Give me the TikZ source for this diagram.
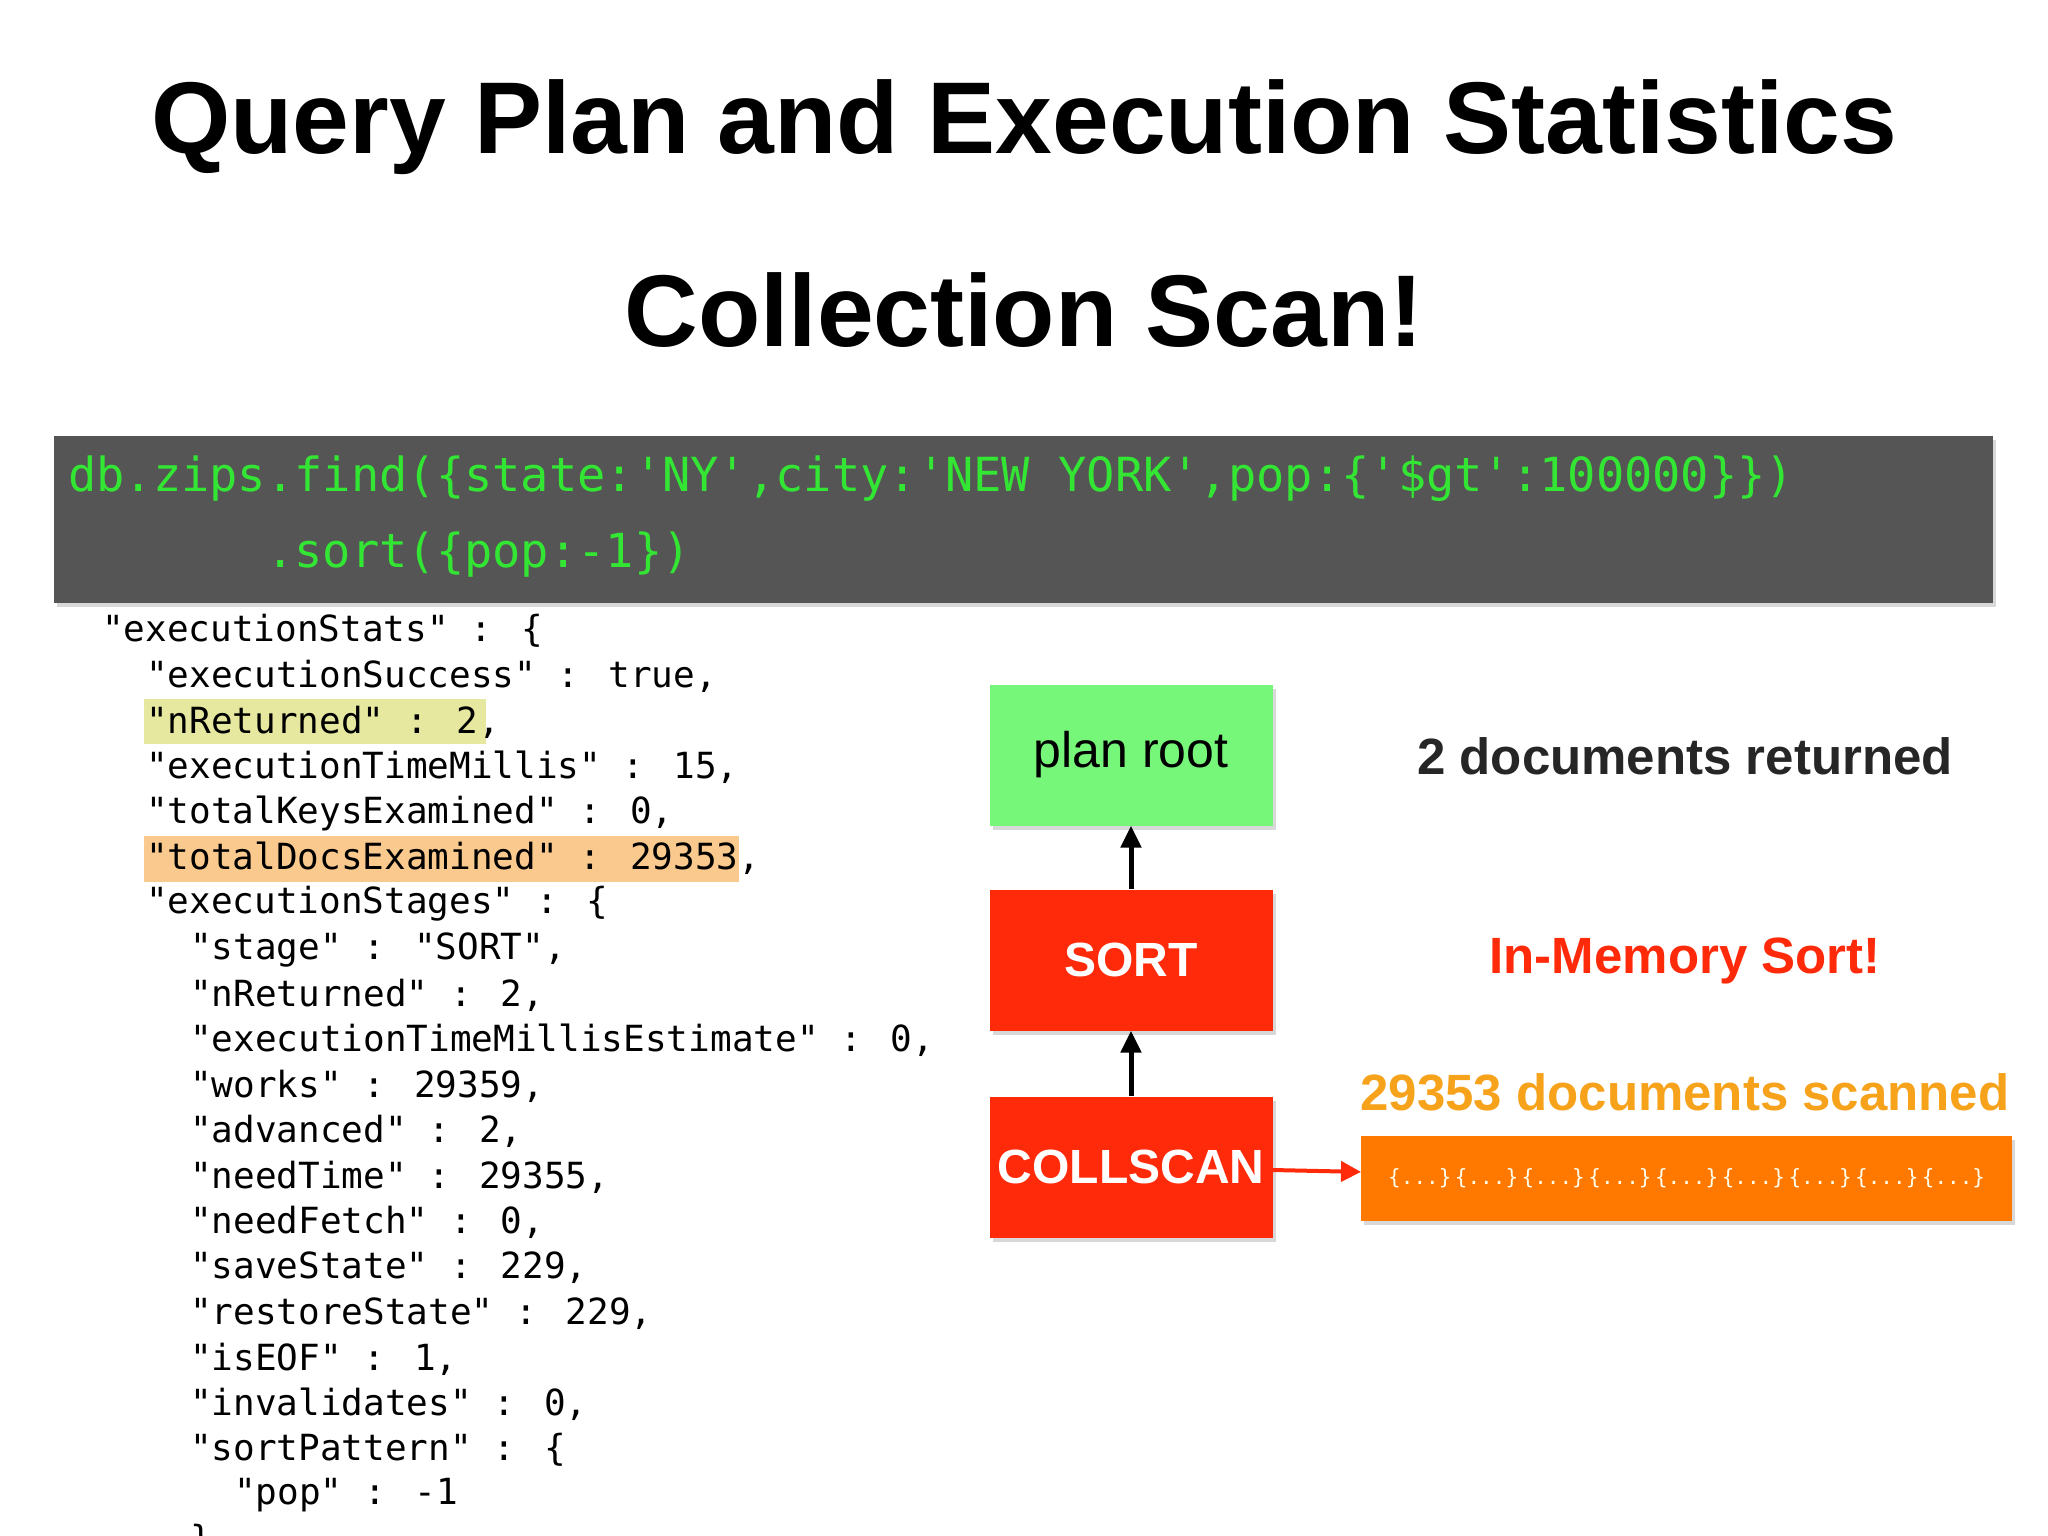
\documentclass[tikz,border=0pt]{standalone}
\usepackage{fontspec}
\setmainfont{Liberation Sans}
\newfontfamily\codefont{DejaVu Sans Mono}
\usetikzlibrary{shadows,arrows.meta}
\definecolor{codegreen}{HTML}{33E633}
\definecolor{bargray}{HTML}{555555}
\definecolor{rootgreen}{HTML}{77F77A}
\definecolor{boxred}{HTML}{FF2A0A}
\definecolor{scanorange}{HTML}{F7A21B}
\definecolor{barorange}{HTML}{FF7800}
\definecolor{hlyellow}{HTML}{E6E8A0}
\definecolor{hlorange}{HTML}{F9C98E}
\tikzset{
 stage/.style={minimum width=283pt,minimum height=141pt,inner sep=0pt,drop shadow={opacity=0.3,shadow xshift=3pt,shadow yshift=-4pt}},
 json/.style={anchor=west,inner sep=0pt,font=\codefont\fontsize{36}{36}\selectfont},
 link/.style={line width=5pt,-{Triangle[length=22pt,width=20pt]}},
 label/.style={font=\bfseries\fontsize{51}{51}\selectfont},
}
\newcommand{\dc}{\{...\}}
\begin{document}
\begin{tikzpicture}[x=1pt,y=-1pt]
\useasboundingbox[fill=white] (0,0) rectangle (2048,1536);
\node[font=\bfseries\fontsize{102}{102}\selectfont] (t1) at (1024,127) {Query Plan and Execution Statistics};
\node[font=\bfseries\fontsize{102}{102}\selectfont] (t2) at (1024,310) {Collection Scan!};
\node[fill=bargray,minimum width=1939pt,minimum height=167pt,inner sep=0pt,anchor=north west,drop shadow={opacity=0.3,shadow xshift=3pt,shadow yshift=-4pt}] (bar) at (54,436) {};
\node[anchor=west,inner sep=0pt,text=codegreen,font=\codefont\fontsize{47}{47}\selectfont] (c1) at (68,479) {db.zips.find(\{state:'NY',city:'NEW YORK',pop:\{'\$gt':100000\}\})};
\node[anchor=west,inner sep=0pt,text=codegreen,font=\codefont\fontsize{47}{47}\selectfont] (c2) at (68,555) {\phantom{db.zips}.sort(\{pop:-1\})};
\fill[hlyellow] (144,699) rectangle (486,744);
\fill[hlorange] (144,836) rectangle (739,882);
\foreach \i/\x/\t in {
0/102/{"executionStats" : \{},
1/146/{"executionSuccess" : true,},
2/146/{"nReturned" : 2,},
3/146/{"executionTimeMillis" : 15,},
4/146/{"totalKeysExamined" : 0,},
5/146/{"totalDocsExamined" : 29353,},
6/146/{"executionStages" : \{},
7/190/{"stage" : "SORT",},
8/190/{"nReturned" : 2,},
9/190/{"executionTimeMillisEstimate" : 0,},
10/190/{"works" : 29359,},
11/190/{"advanced" : 2,},
12/190/{"needTime" : 29355,},
13/190/{"needFetch" : 0,},
14/190/{"saveState" : 229,},
15/190/{"restoreState" : 229,},
16/190/{"isEOF" : 1,},
17/190/{"invalidates" : 0,},
18/190/{"sortPattern" : \{},
19/234/{"pop" : -1},
20/190/{\}}}
  \node[json] (j\i) at (\x,631+45.5*\i) {\t};
\node[stage,fill=rootgreen,font=\fontsize{50}{50}\selectfont] (root) at (1131,755) {plan root};
\node[stage,fill=boxred,text=white,font=\bfseries\fontsize{48}{48}\selectfont] (sort) at (1131,960) {SORT};
\node[stage,fill=boxred,text=white,font=\bfseries\fontsize{48}{48}\selectfont] (coll) at (1131,1167) {COLLSCAN};
\draw[link] (sort) -- (root);
\draw[link] (coll) -- (sort);
\node[label,text=black!85] (l1) at (1685,756) {2 documents returned};
\node[label,text=boxred] (l2) at (1685,961) {In-Memory Sort!};
\node[label,text=scanorange] (l3) at (1685,1092) {29353 documents scanned};
\node[fill=barorange,minimum width=651pt,minimum height=85pt,inner sep=0pt,anchor=north west,drop shadow={opacity=0.3,shadow xshift=3pt,shadow yshift=-4pt}] (docs) at (1361,1136) {};
\node[text=yellow!8,font=\codefont\fontsize{21}{21}\selectfont,inner sep=0pt] (dtext) at (docs.center) {\dc\,\dc\,\dc\,\dc\,\dc\,\dc\,\dc\,\dc\,\dc};
\draw[boxred,line width=4pt,-{Triangle[length=20pt,width=20pt]}] (coll) -- (docs);
\end{tikzpicture}
\end{document}
